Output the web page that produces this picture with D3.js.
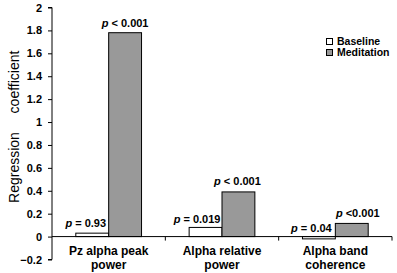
<!DOCTYPE html>
<html><head><meta charset="utf-8">
<script src="https://cdn.jsdelivr.net/npm/d3@7"></script>
<style>body{margin:0;background:#fff}svg{display:block}text{font-family:"Liberation Sans",Arial,sans-serif}</style>
</head><body>
<script>
const categories = [["Pz alpha peak","power"],["Alpha relative","power"],["Alpha band","coherence"]];
const series = ["Baseline","Meditation"];
const baseline = [0.03, 0.08, -0.02];
const meditation = [1.78, 0.39, 0.115];
const pBaseline = [["=","0.93"],["=","0.019"],["=","0.04"]];
const pMeditation = [["<","0.001"],["<","0.001"],["<","0.001"]];
const yTicks = [-0.2,0,0.2,0.4,0.6,0.8,1,1.2,1.4,1.6,1.8,2];
const yTitle = ["Regression","coefficient"];
const colors = ["#ffffff","#999999"];

const W=397,H=273;
const svg=d3.select("body").append("svg").attr("width",W).attr("height",H);
const y=d3.scaleLinear().domain([-0.2,2]).range([259.5,7.5]);
const x0=d3.scaleBand().domain(d3.range(3)).range([52,392]).paddingInner(0).paddingOuter(0);
const bw=x0.bandwidth()*0.29;

// y axis
const ya=svg.append("g").attr("transform","translate(52,0)")
  .call(d3.axisLeft(y).tickValues(yTicks).tickSize(4).tickPadding(6).tickFormat(d=>d3.format("")(+d.toFixed(1))));
ya.select(".domain").attr("d",`M-4,${y(-0.2)}H0V${y(2)}H-4`).attr("stroke","#000");
ya.selectAll("text").attr("font-size",11).attr("font-weight","bold").attr("fill","#000");
ya.selectAll("line").attr("stroke","#000");

// bars
const g=svg.append("g");
categories.forEach((c,i)=>{
  const cx=x0(i)+x0.bandwidth()/2;
  [baseline[i],meditation[i]].forEach((v,j)=>{
    const xl = j===0? cx-bw : cx;
    g.append("rect").attr("x",xl).attr("width",bw)
      .attr("y",Math.min(y(v),y(0))).attr("height",Math.abs(y(v)-y(0)))
      .attr("fill",colors[j]).attr("stroke","#000").attr("stroke-width",1);
  });
});

// x axis line at 0
svg.append("line").attr("x1",52).attr("x2",392).attr("y1",y(0)).attr("y2",y(0)).attr("stroke","#000");
[1,2,3].forEach(i=>{
  const xx = i<3? x0(i) : 392;
  svg.append("line").attr("x1",xx).attr("x2",xx).attr("y1",y(0)).attr("y2",y(0)+4).attr("stroke","#000");
});

// category labels
categories.forEach((c,i)=>{
  const cx=x0(i)+x0.bandwidth()/2;
  c.forEach((t,k)=>svg.append("text").attr("x",cx).attr("y",255+k*13.5).attr("text-anchor","middle")
    .attr("font-size",12).attr("font-weight","bold").text(t));
});

// p labels
function pLabel(xc,yb,p,tight){
  const t=svg.append("text").attr("x",xc).attr("y",yb).attr("text-anchor","middle").attr("font-size",11).attr("font-weight","bold");
  t.append("tspan").attr("font-style","italic").text("p");
  t.append("tspan").text(" "+p[0]+(tight?"":" ")+p[1]);
}
const offB=[-6.5,-8.5,-7.5], offM=[0,-1,6];
const gapB=[6,4,5], gapM=[6,6.5,6.5];
categories.forEach((c,i)=>{
  const cx=x0(i)+x0.bandwidth()/2;
  pLabel(cx-bw/2+offB[i], Math.min(y(baseline[i]),y(0))-gapB[i], pBaseline[i], false);
  pLabel(cx+bw/2+offM[i], y(meditation[i])-gapM[i], pMeditation[i], i===2);
});

// legend
series.forEach((s,j)=>{
  svg.append("rect").attr("x",326.5).attr("y",38.5+j*11).attr("width",6).attr("height",6)
    .attr("fill",colors[j]).attr("stroke","#000").attr("stroke-width",1);
  svg.append("text").attr("x",337).attr("y",45+j*11).attr("font-size",10.5).attr("font-weight","bold").text(s);
});

// y title (two words with a wide gap)
[167.5, 82].forEach((cy,k)=>{
  svg.append("text").attr("transform",`translate(19,${cy}) rotate(-90)`).attr("text-anchor","middle")
    .attr("font-size",14).text(yTitle[k]);
});
</script>
</body></html>
